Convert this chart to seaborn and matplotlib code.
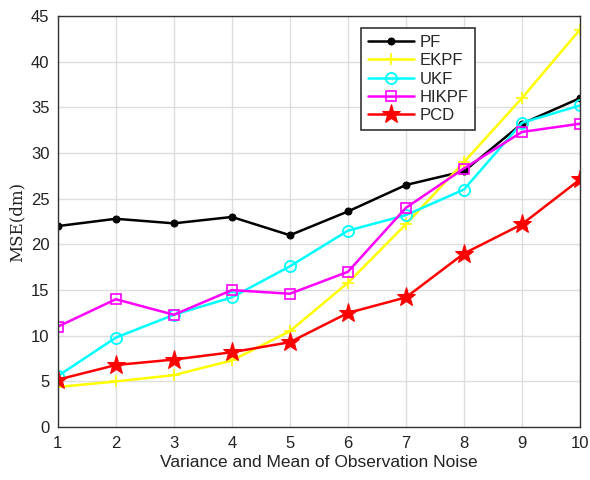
import matplotlib
matplotlib.use("Agg")
import matplotlib.pyplot as plt
import seaborn as sns
import pandas as pd

x = [1, 2, 3, 4, 5, 6, 7, 8, 9, 10]
pf = [22.0, 22.8, 22.3, 23.0, 21.0, 23.6, 26.5, 28.0, 33.2, 36.0]
ekpf = [4.4, 5.0, 5.7, 7.3, 10.5, 15.8, 22.2, 29.0, 36.0, 43.5]
ukf = [5.6, 9.8, 12.3, 14.2, 17.6, 21.5, 23.2, 26.0, 33.3, 35.2]
hikpf = [11.0, 14.0, 12.3, 15.0, 14.6, 17.0, 24.0, 28.3, 32.3, 33.2]
pcd = [5.2, 6.8, 7.4, 8.2, 9.3, 12.5, 14.2, 19.0, 22.2, 27.1]
names = ["PF", "EKPF", "UKF", "HIKPF", "PCD"]

sns.set_style("white")
plt.rcParams["font.family"] = ["Liberation Sans", "DejaVu Sans"]
fig = plt.figure(figsize=(5.9, 4.8), dpi=100)
ax = fig.add_axes([0.098, 0.110, 0.885, 0.857])

styles = [
    dict(color="black", marker="o", markersize=5, markerfacecolor="black", markeredgecolor="black"),
    dict(color="#ffff00", marker="+", markersize=9, markeredgewidth=1.2, markeredgecolor="#ffff00"),
    dict(color="#00ffff", marker="o", markersize=8, markerfacecolor="none", markeredgewidth=1.3, markeredgecolor="#00ffff"),
    dict(color="#ff00ff", marker="s", markersize=7, markerfacecolor="none", markeredgewidth=1.2, markeredgecolor="#ff00ff"),
    dict(color="red", marker="*", markersize=14, markerfacecolor="red", markeredgecolor="red"),
]
for name, vals, st in zip(names, [pf, ekpf, ukf, hikpf, pcd], styles):
    df = pd.DataFrame({"x": x, "y": vals})
    sns.lineplot(data=df, x="x", y="y", ax=ax, label=name, linewidth=1.8, **st)

ax.set_xlim(1, 10)
ax.set_ylim(0, 45)
ax.set_xticks(range(1, 11))
ax.set_yticks(range(0, 46, 5))
ax.grid(True, color="#dddddd", linewidth=1)
for s in ax.spines.values():
    s.set_color("#333333")
    s.set_linewidth(1.0)
ax.tick_params(axis="both", labelsize=12, colors="#222222", direction="in", length=4, pad=6)
ax.set_xlabel("Variance and Mean of Observation Noise", fontsize=12.5, color="#222222", labelpad=3)
ax.set_ylabel("MSE(dm)", fontsize=12, family="serif", color="#222222")
leg = ax.legend(loc="upper right", bbox_to_anchor=(0.815, 0.99), fontsize=12,
                frameon=True, fancybox=False, framealpha=1, edgecolor="#333333",
                handlelength=2.8, borderpad=0.4, labelspacing=0.2, handletextpad=0.3)
leg.get_frame().set_linewidth(1.2)
fig.savefig("out.png", dpi=100)
